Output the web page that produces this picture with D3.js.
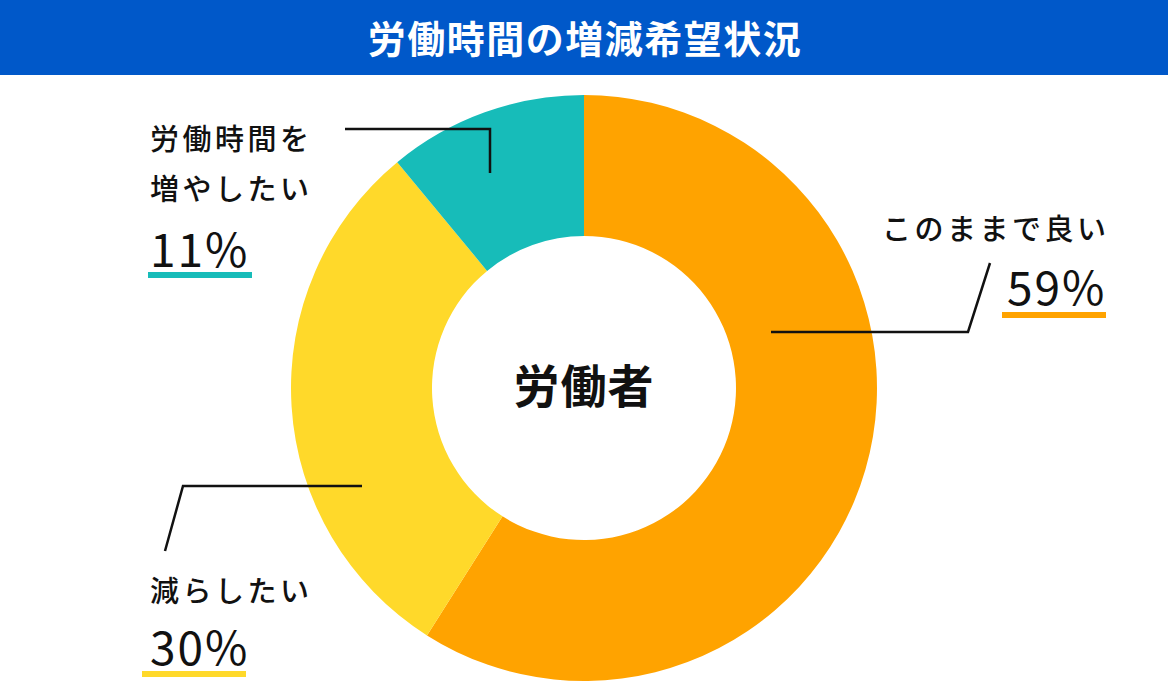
<!DOCTYPE html>
<html>
<head>
<meta charset="utf-8">
<script src="https://cdn.jsdelivr.net/npm/d3@7"></script>
<style>
  body { margin: 0; background: #fff; }
  svg text { font-family: "Noto Sans CJK JP", "Noto Sans", sans-serif; }
</style>
</head>
<body>
<div id="chart"></div>
<script>
// data
const categories = ["このままで良い", "減らしたい", "労働時間を増やしたい"];
const values = [59, 30, 11];
const labelLines = [["このままで良い"], ["減らしたい"], ["労働時間を", "増やしたい"]];
const colors = ["#ffa300", "#ffd92a", "#17bcb9"];
const title = "労働時間の増減希望状況";
const centerLabel = "労働者";

const width = 1168, height = 700;
const cx = 584, cy = 388, outerR = 293, innerR = 152;

const svg = d3.select("#chart").append("svg")
    .attr("width", width)
    .attr("height", height);

// title bar
svg.append("rect")
    .attr("x", 0).attr("y", 0)
    .attr("width", width).attr("height", 75)
    .attr("fill", "#0058c9");
svg.append("text")
    .attr("x", width / 2 + 1).attr("y", 53)
    .attr("text-anchor", "middle")
    .attr("fill", "#fff")
    .attr("font-size", 38)
    .attr("font-weight", "bold")
    .attr("letter-spacing", 1.5)
    .text(title);

const pie = d3.pie().sort(null).value(d => d);
const arc = d3.arc().innerRadius(innerR).outerRadius(outerR);

const g = svg.append("g").attr("transform", `translate(${cx},${cy})`);
g.selectAll("path")
    .data(pie(values))
    .enter()
    .append("path")
    .attr("d", arc)
    .attr("fill", (d, i) => colors[i]);

svg.append("text")
    .attr("x", cx).attr("y", cy + 15)
    .attr("text-anchor", "middle")
    .attr("font-size", 46)
    .attr("font-weight", "bold")
    .attr("letter-spacing", 1)
    .attr("fill", "#111")
    .text(centerLabel);

// label layout (annotation positions)
const layout = [
    {lines: [[882, 240]], pct: [1007, 305], ul: [1002, 312, 104], leader: [[771, 332], [968, 332], [990, 263]]},
    {lines: [[150, 602]], pct: [150, 665], ul: [142, 671, 104], leader: [[362, 486], [183, 486], [165, 551]]},
    {lines: [[150, 150], [150, 200]], pct: [150, 267], ul: [148, 272, 104], leader: [[345, 129], [490, 129], [490, 173]]}
];

const line = d3.line();

layout.forEach((l, i) => {
    svg.append("path")
        .attr("d", line(l.leader))
        .attr("fill", "none")
        .attr("stroke", "#111")
        .attr("stroke-width", 2.5);

    labelLines[i].forEach((t, j) => {
        svg.append("text")
            .attr("x", l.lines[j][0]).attr("y", l.lines[j][1])
            .attr("font-size", 29)
            .attr("font-weight", 500)
            .attr("letter-spacing", 3.5)
            .attr("fill", "#111")
            .text(t);
    });

    svg.append("text")
        .attr("x", l.pct[0]).attr("y", l.pct[1])
        .attr("font-size", 46)
        .attr("letter-spacing", 2)
        .attr("fill", "#111")
        .text(values[i] + "%");

    svg.append("rect")
        .attr("x", l.ul[0]).attr("y", l.ul[1])
        .attr("width", l.ul[2]).attr("height", 6)
        .attr("fill", colors[i]);
});
</script>
</body>
</html>
